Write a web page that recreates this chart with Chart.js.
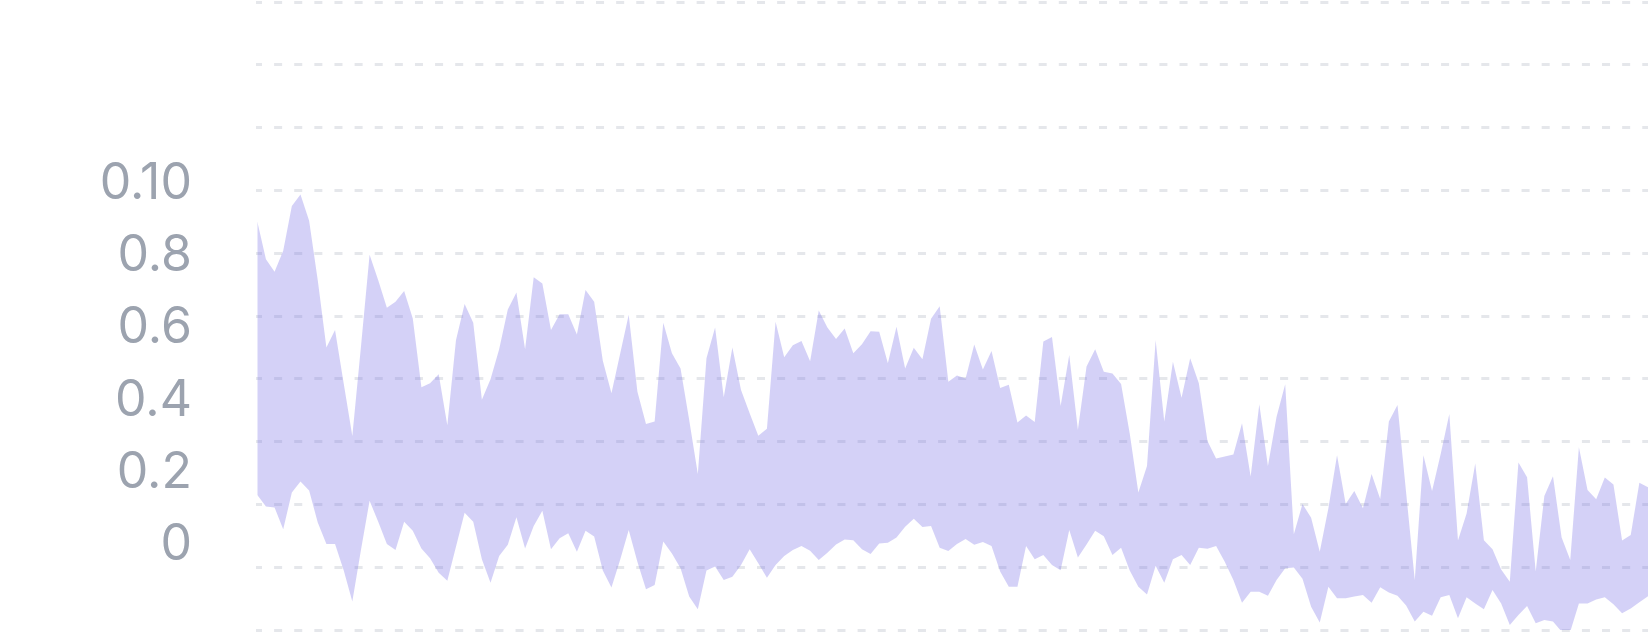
<!DOCTYPE html>
<html>
<head>
<meta charset="utf-8">
<script src="https://cdn.jsdelivr.net/npm/chart.js@4/dist/chart.umd.min.js"></script>
<style>
  html, body { margin: 0; padding: 0; background: #ffffff; overflow: hidden; }
  #wrap { width: 1648px; height: 632px; position: relative; }
  #labels { position: absolute; left: 0; top: 0; width: 0; height: 0; }
  .tick {
    position: absolute;
    transform: translate(-100%, -50%);
    font-family: 'Inter', sans-serif;
    font-size: 50px;
    font-weight: 400;
    line-height: 50px;
    color: #9ca3af;
    white-space: nowrap;
  }
</style>
</head>
<body>
<div id="wrap"><canvas id="c" width="1648" height="632"></canvas><div id="labels"></div></div>
<script>
// Upper edge of the band
const upperValues = [
  0.887, 0.783, 0.748, 0.806, 0.930, 0.962, 0.889, 0.725, 0.539, 0.587,
  0.440, 0.294, 0.541, 0.795, 0.725, 0.649, 0.665, 0.695, 0.619, 0.429,
  0.440, 0.465, 0.324, 0.559, 0.659, 0.607, 0.394, 0.451, 0.534, 0.644,
  0.691, 0.534, 0.733, 0.716, 0.587, 0.631, 0.631, 0.575, 0.698, 0.665,
  0.502, 0.412, 0.521, 0.629, 0.417, 0.327, 0.334, 0.607, 0.523, 0.481,
  0.338, 0.189, 0.509, 0.594, 0.401, 0.539, 0.421, 0.357, 0.295, 0.314,
  0.610, 0.512, 0.545, 0.557, 0.501, 0.641, 0.594, 0.562, 0.591, 0.523,
  0.548, 0.584, 0.582, 0.495, 0.596, 0.481, 0.538, 0.506, 0.618, 0.653,
  0.444, 0.461, 0.453, 0.547, 0.478, 0.529, 0.427, 0.436, 0.331, 0.351,
  0.333, 0.555, 0.568, 0.377, 0.518, 0.311, 0.486, 0.534, 0.472, 0.467,
  0.438, 0.301, 0.138, 0.211, 0.559, 0.334, 0.499, 0.400, 0.509, 0.440,
  0.280, 0.232, 0.237, 0.243, 0.329, 0.182, 0.382, 0.211, 0.347, 0.437,
  0.022, 0.106, 0.068, -0.026, 0.094, 0.241, 0.106, 0.142, 0.094, 0.189,
  0.120, 0.334, 0.380, 0.137, -0.104, 0.241, 0.142, 0.244, 0.355, 0.005,
  0.080, 0.218, 0.006, -0.019, -0.075, -0.109, 0.221, 0.180, -0.081, 0.128,
  0.183, 0.013, -0.049, 0.263, 0.145, 0.119, 0.179, 0.160, 0.005, 0.020,
  0.165, 0.152
];
// Lower edge of the band
const lowerValues = [
  0.131, 0.099, 0.096, 0.036, 0.138, 0.168, 0.143, 0.055, -0.005, -0.005,
  -0.077, -0.164, -0.021, 0.115, 0.057, -0.005, -0.021, 0.057, 0.032, -0.017,
  -0.044, -0.084, -0.106, -0.012, 0.082, 0.057, -0.047, -0.112, -0.038, -0.007,
  0.069, -0.017, 0.045, 0.087, -0.019, 0.011, 0.025, -0.026, 0.032, 0.016,
  -0.078, -0.125, -0.049, 0.034, -0.054, -0.130, -0.118, 0.002, -0.031, -0.072,
  -0.150, -0.185, -0.078, -0.067, -0.104, -0.095, -0.063, -0.019, -0.058, -0.098,
  -0.063, -0.038, -0.021, -0.010, -0.023, -0.049, -0.029, -0.006, 0.008, 0.006,
  -0.019, -0.032, -0.003, -0.001, 0.013, 0.043, 0.065, 0.042, 0.045, -0.015,
  -0.024, -0.005, 0.009, -0.007, 0.001, -0.010, -0.081, -0.123, -0.123, -0.010,
  -0.047, -0.035, -0.063, -0.077, 0.034, -0.042, -0.006, 0.032, 0.017, -0.035,
  -0.015, -0.078, -0.123, -0.144, -0.065, -0.112, -0.047, -0.035, -0.063, -0.015,
  -0.018, -0.010, -0.054, -0.104, -0.167, -0.137, -0.137, -0.148, -0.104, -0.072,
  -0.070, -0.101, -0.178, -0.222, -0.123, -0.155, -0.155, -0.150, -0.146, -0.167,
  -0.124, -0.139, -0.148, -0.175, -0.219, -0.192, -0.203, -0.152, -0.146, -0.210,
  -0.152, -0.169, -0.185, -0.132, -0.169, -0.229, -0.201, -0.176, -0.224, -0.215,
  -0.219, -0.247, -0.247, -0.169, -0.169, -0.158, -0.152, -0.171, -0.196, -0.183,
  -0.166, -0.149
];
// Axis tick values and the labels printed for them
const tickValues = [0, 0.2, 0.4, 0.6, 0.8, 1.0];
const tickLabels = ['0', '0.2', '0.4', '0.6', '0.8', '0.10'];
// Position index of each sample
const categories = upperValues.map((_, i) => i);

const toPoints = (vals) => vals.map((v, i) => ({ x: categories[i], y: v }));
const bandColor = 'rgba(120, 113, 230, 0.32)';
const TICK_PADDING = 64;

const chart = new Chart(document.getElementById('c'), {
  type: 'line',
  data: {
    datasets: [
      { data: toPoints(lowerValues), borderWidth: 0, pointRadius: 0, fill: false, tension: 0, backgroundColor: bandColor },
      { data: toPoints(upperValues), borderWidth: 0, pointRadius: 0, fill: '-1', tension: 0, backgroundColor: bandColor }
    ]
  },
  options: {
    responsive: false,
    devicePixelRatio: 1,
    animation: false,
    events: [],
    layout: { padding: { top: 2, bottom: 2, left: 0, right: 0 } },
    plugins: { legend: { display: false }, tooltip: { enabled: false } },
    scales: {
      x: { type: 'linear', display: false, min: -0.15, max: 161 },
      y: {
        type: 'linear',
        position: 'left',
        min: -0.2425,
        max: 1.4942,
        afterBuildTicks: (scale) => { scale.ticks = tickValues.map(v => ({ value: v })); },
        afterFit: (scale) => { scale.width = 256; scale.paddingTop = 0; scale.paddingBottom = 0; },
        grid: { display: false, drawTicks: false },
        border: { display: false },
        ticks: { display: false }
      },
      y2: {
        type: 'linear',
        position: 'right',
        min: 0,
        max: 10,
        afterBuildTicks: (scale) => {
          const t = [];
          for (let k = 0; k <= 10; k++) t.push({ value: k });
          scale.ticks = t;
        },
        afterFit: (scale) => { scale.width = 0; scale.paddingTop = 0; scale.paddingBottom = 0; },
        ticks: { display: false },
        grid: { color: '#e5e7eb', lineWidth: 3, drawTicks: false },
        border: { display: false, dash: [8, 12.12], dashOffset: 2 }
      }
    }
  }
});

// Tick labels of the y axis, placed from the axis's own tick pixels
const yScale = chart.scales.y;
const host = document.getElementById('labels');
yScale.ticks.forEach((tick, i) => {
  const el = document.createElement('div');
  el.className = 'tick';
  el.textContent = tickLabels[i];
  el.style.left = (yScale.right - TICK_PADDING) + 'px';
  el.style.top = yScale.getPixelForTick(i) + 'px';
  host.appendChild(el);
});
</script>
</body>
</html>
